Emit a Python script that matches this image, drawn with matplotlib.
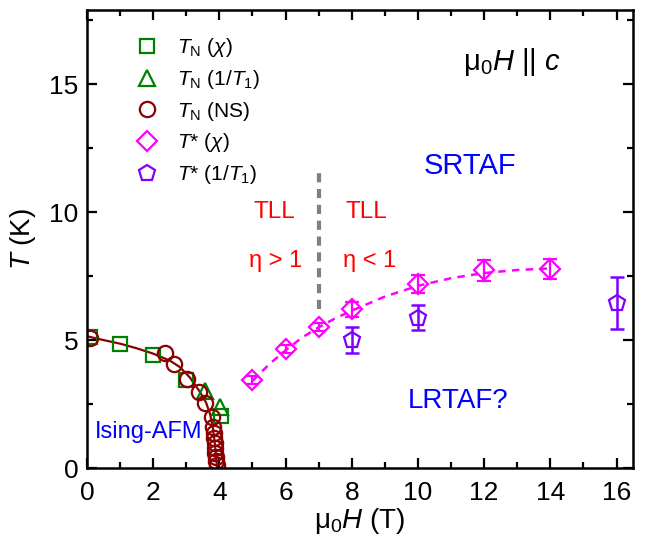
import matplotlib
matplotlib.use("Agg")
import matplotlib.pyplot as plt
from matplotlib.ticker import MultipleLocator

plt.rcParams['font.family'] = ['Liberation Sans', 'DejaVu Sans']
plt.rcParams['mathtext.fontset'] = 'custom'
plt.rcParams['mathtext.rm'] = 'Liberation Sans'
plt.rcParams['mathtext.it'] = 'Liberation Sans:italic'
plt.rcParams['mathtext.bf'] = 'Liberation Sans:bold'

# ---- data ----
tn_chi_H = [0.1, 1.0, 2.0, 3.0, 4.05]
tn_chi_T = [5.12, 4.85, 4.42, 3.45, 2.05]

tn_t1_H = [3.56, 4.02]
tn_t1_T = [3.02, 2.38]

tn_ns_H = [0.1, 2.36, 2.64, 3.01, 3.38, 3.56, 3.77, 3.82, 3.84, 3.85, 3.86, 3.87, 3.88, 3.89, 3.90, 3.92]
tn_ns_T = [5.1, 4.48, 4.06, 3.47, 2.98, 2.55, 2.0, 1.61, 1.37, 1.17, 0.98, 0.78, 0.6, 0.44, 0.29, 0.12]

fit_H = [0.0, 0.5, 1.0, 1.5, 2.0, 2.5, 2.8, 3.1, 3.4, 3.6, 3.72, 3.8, 3.85, 3.88, 3.91, 3.93]
fit_T = [5.15, 5.0, 4.86, 4.68, 4.47, 4.2, 3.95, 3.55, 3.0, 2.55, 2.1, 1.6, 1.1, 0.7, 0.3, 0.0]

ts_chi_H = [5, 6, 7, 8, 10, 12, 14]
ts_chi_T = [3.44, 4.64, 5.5, 6.2, 7.2, 7.72, 7.78]
ts_chi_err = [0.15, 0.15, 0.15, 0.3, 0.35, 0.4, 0.4]

ts_fit_H = [5.0, 5.5, 6.0, 6.5, 7.0, 7.5, 8.0, 9.0, 10.0, 11.0, 12.0, 13.0, 14.0]
ts_fit_T = [3.4, 4.05, 4.6, 5.1, 5.5, 5.85, 6.15, 6.7, 7.12, 7.42, 7.62, 7.74, 7.8]

ts_t1_H = [8, 10, 16]
ts_t1_T = [5.0, 5.88, 6.45]
ts_t1_err = [0.5, 0.5, 1.0]

tll_H = [7, 7]
tll_T = [6.2, 11.75]

xticks = [0, 2, 4, 6, 8, 10, 12, 14, 16]
yticks = [0, 5, 10, 15]

legend_labels = [r'$T_{\rm N}$ ($\chi$)', r'$T_{\rm N}$ (1/$T_1$)', r'$T_{\rm N}$ (NS)',
                 r'$T$* ($\chi$)', r'$T$* (1/$T_1$)']

# ---- colors ----
green = '#008000'
dred = '#8B0000'
mag = '#FF00FF'
purp = '#7F00FF'

fig = plt.figure(figsize=(6.46, 5.35), dpi=100)
ax = fig.add_axes([0.1347, 0.1252, 0.8453, 0.8561])

ax.plot(fit_H, fit_T, '-', color=dred, lw=1.6, zorder=2)
ax.plot(ts_fit_H, ts_fit_T, '--', color=mag, lw=1.8, dashes=(3, 2.5), zorder=2)
ax.plot(tll_H, tll_T, '--', color='#808080', lw=3, dashes=(2.2, 1.6), zorder=2)

mk = dict(linestyle='none', markerfacecolor='none', markeredgewidth=1.6)
h1, = ax.plot(tn_chi_H, tn_chi_T, marker='s', color=green, markersize=10, **mk)
h2, = ax.plot(tn_t1_H, tn_t1_T, marker='^', color=green, markersize=11, **mk)
h3, = ax.plot(tn_ns_H, tn_ns_T, marker='o', color=dred, markersize=11, **mk)
ax.errorbar(ts_chi_H, ts_chi_T, yerr=ts_chi_err, fmt='none', ecolor=mag,
            capsize=5, elinewidth=1.6, capthick=1.6)
h4, = ax.plot(ts_chi_H, ts_chi_T, marker='D', color=mag, markersize=10, **mk)
ax.errorbar(ts_t1_H, ts_t1_T, yerr=ts_t1_err, fmt='none', ecolor=purp,
            capsize=5, elinewidth=1.8, capthick=1.8)
h5, = ax.plot(ts_t1_H, ts_t1_T, marker='p', color=purp, markersize=12, **mk)

ax.set_xlim(0, 16.5)
ax.set_ylim(0, 17.9)
ax.set_xticks(xticks)
ax.set_yticks(yticks)
ax.xaxis.set_minor_locator(MultipleLocator(1))
ax.yaxis.set_minor_locator(MultipleLocator(2.5))
ax.tick_params(which='both', direction='in', top=True, right=True, labelsize=19, width=1.6)
ax.tick_params(which='major', length=7)
ax.tick_params(which='minor', length=4)
ax.tick_params(axis='x', pad=9)
ax.tick_params(axis='y', pad=6)
for s in ax.spines.values():
    s.set_linewidth(1.8)

ax.set_xlabel(r'$\mathrm{\mu_0}H$ (T)', fontsize=20, labelpad=1)
ax.set_ylabel(r'$T$ (K)', fontsize=20, labelpad=8)

ax.text(12.85, 15.86, r'$\mathrm{\mu_0}H\ ||\ c$', fontsize=21, ha='center', va='center')
ax.text(11.57, 11.8, 'SRTAF', color='#0000FF', fontsize=21, ha='center', va='center')
ax.text(11.2, 2.62, 'LRTAF?', color='#0000FF', fontsize=20, ha='center', va='center')
ax.text(1.87, 1.4, 'Ising-AFM', color='#0000FF', fontsize=17, ha='center', va='center')
ax.text(5.65, 10.0, 'TLL', color='#FF0000', fontsize=17.5, ha='center', va='center')
ax.text(5.71, 8.09, 'η > 1', color='#FF0000', fontsize=17, ha='center', va='center')
ax.text(8.43, 10.0, 'TLL', color='#FF0000', fontsize=17.5, ha='center', va='center')
ax.text(8.55, 8.09, 'η < 1', color='#FF0000', fontsize=17, ha='center', va='center')

ax.legend([h1, h2, h3, h4, h5], legend_labels, loc='upper left', bbox_to_anchor=(0.087, 0.943),
          frameon=False, fontsize=15, handlelength=1.2, handletextpad=0.85, labelspacing=0.42,
          borderaxespad=0, borderpad=0)
fig.savefig('out.png', dpi=100)
